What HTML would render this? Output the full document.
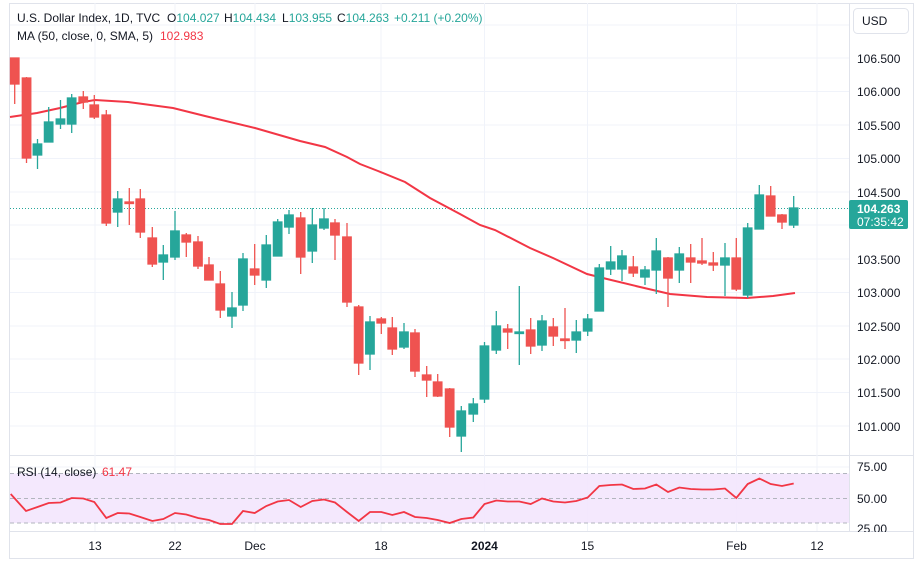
<!DOCTYPE html>
<html><head><meta charset="utf-8"><style>
html,body{margin:0;padding:0;background:#fff;width:923px;height:566px;overflow:hidden}
svg{display:block;font-family:"Liberation Sans",sans-serif}
</style></head><body>
<svg width="923" height="566" viewBox="0 0 923 566" xmlns="http://www.w3.org/2000/svg">
<rect x="0" y="0" width="923" height="566" fill="#fff"/>
<rect x="9.5" y="3.5" width="904" height="555" fill="none" stroke="#e0e3eb"/>
<line x1="849.5" y1="3" x2="849.5" y2="558" stroke="#e0e3eb"/>
<line x1="10" y1="455.5" x2="913" y2="455.5" stroke="#e0e3eb"/>
<line x1="10" y1="531.5" x2="913" y2="531.5" stroke="#e0e3eb"/>
<g stroke="#f0f3fa" stroke-width="1">
<line x1="10" y1="25" x2="849" y2="25"/>
<line x1="10" y1="58" x2="849" y2="58"/>
<line x1="10" y1="91.5" x2="849" y2="91.5"/>
<line x1="10" y1="125" x2="849" y2="125"/>
<line x1="10" y1="158.5" x2="849" y2="158.5"/>
<line x1="10" y1="192" x2="849" y2="192"/>
<line x1="10" y1="225" x2="849" y2="225"/>
<line x1="10" y1="259" x2="849" y2="259"/>
<line x1="10" y1="292.5" x2="849" y2="292.5"/>
<line x1="10" y1="326" x2="849" y2="326"/>
<line x1="10" y1="359" x2="849" y2="359"/>
<line x1="10" y1="392.5" x2="849" y2="392.5"/>
<line x1="10" y1="426" x2="849" y2="426"/>
<line x1="10" y1="467" x2="849" y2="467"/>
<line x1="95" y1="3" x2="95" y2="531"/>
<line x1="175" y1="3" x2="175" y2="531"/>
<line x1="255" y1="3" x2="255" y2="531"/>
<line x1="381" y1="3" x2="381" y2="531"/>
<line x1="484.5" y1="3" x2="484.5" y2="531"/>
<line x1="587.5" y1="3" x2="587.5" y2="531"/>
<line x1="736.5" y1="3" x2="736.5" y2="531"/>
<line x1="817" y1="3" x2="817" y2="531"/>
</g>
<rect x="10" y="473.5" width="839" height="49.5" fill="#f3e5fd" opacity="0.9"/>
<g stroke="#b2b5be" stroke-dasharray="4,3" stroke-width="1">
<line x1="10" y1="473.5" x2="849" y2="473.5"/>
<line x1="10" y1="498.5" x2="849" y2="498.5"/>
<line x1="10" y1="523" x2="849" y2="523"/>
</g>
<line x1="10" y1="208.5" x2="849" y2="208.5" stroke="#26a69a" stroke-dasharray="1,2"/>
<polyline fill="none" stroke="#f23645" stroke-width="2" points="10,117 37,113 60,108 83,102 95,100 128,102 173,108 205,116 255,128 300,141 325,147 347,157 360,164 378,171 405,182 430,198 460,214 480,225 495,230 530,248 553,258 587,274 607,279 640,287 670,294 707,297 747,298 773,296 795,293"/>
<g stroke-width="1.3">
<g stroke="#ef5350" fill="#ef5350">
<line x1="14.7" y1="58" x2="14.7" y2="104"/><rect x="10.5" y="58" width="8.5" height="26"/>
<line x1="26.5" y1="77" x2="26.5" y2="163"/><rect x="22.3" y="78" width="8.5" height="80"/>
<line x1="83.3" y1="91" x2="83.3" y2="109"/><rect x="79" y="97" width="8.5" height="5"/>
<line x1="94.3" y1="95" x2="94.3" y2="119"/><rect x="90" y="105" width="8.5" height="12"/>
<line x1="106.3" y1="110" x2="106.3" y2="226"/><rect x="102" y="115" width="8.5" height="108"/>
<line x1="129.3" y1="188" x2="129.3" y2="225"/><rect x="125" y="202" width="8.5" height="1.5"/>
<line x1="140.3" y1="189" x2="140.3" y2="238"/><rect x="136" y="199" width="8.5" height="33"/>
<line x1="152.3" y1="227" x2="152.3" y2="267"/><rect x="148" y="238" width="8.5" height="26"/>
<line x1="186.3" y1="233" x2="186.3" y2="257"/><rect x="182" y="235" width="8.5" height="7"/>
<line x1="198" y1="236" x2="198" y2="269"/><rect x="193.7" y="242" width="8.5" height="24"/>
<line x1="209" y1="257" x2="209" y2="280"/><rect x="204.7" y="265" width="8.5" height="15"/>
<line x1="220.3" y1="271" x2="220.3" y2="318"/><rect x="216" y="284" width="8.5" height="26"/>
<line x1="254.7" y1="244" x2="254.7" y2="285"/><rect x="250.4" y="269" width="8.5" height="6"/>
<line x1="300.7" y1="212" x2="300.7" y2="274"/><rect x="296.4" y="218" width="8.5" height="39"/>
<line x1="335" y1="219" x2="335" y2="260"/><rect x="330.7" y="223" width="8.5" height="12"/>
<line x1="347" y1="223" x2="347" y2="307"/><rect x="342.7" y="237" width="8.5" height="65"/>
<line x1="358.7" y1="305" x2="358.7" y2="375"/><rect x="354.4" y="307" width="8.5" height="56"/>
<line x1="381.3" y1="317" x2="381.3" y2="334"/><rect x="377" y="319" width="8.5" height="4"/>
<line x1="392.3" y1="317" x2="392.3" y2="355"/><rect x="388" y="328" width="8.5" height="21"/>
<line x1="415" y1="329" x2="415" y2="377"/><rect x="410.7" y="333" width="8.5" height="38"/>
<line x1="426.7" y1="366" x2="426.7" y2="397"/><rect x="422.4" y="375" width="8.5" height="5"/>
<line x1="437.7" y1="374" x2="437.7" y2="397"/><rect x="433.4" y="382" width="8.5" height="14"/>
<line x1="449.7" y1="388" x2="449.7" y2="437"/><rect x="445.4" y="389" width="8.5" height="38"/>
<line x1="507.7" y1="324" x2="507.7" y2="349"/><rect x="503.4" y="329" width="8.5" height="3"/>
<line x1="530.7" y1="318" x2="530.7" y2="354"/><rect x="526.4" y="330" width="8.5" height="16"/>
<line x1="553.3" y1="318" x2="553.3" y2="346"/><rect x="549" y="327" width="8.5" height="9"/>
<line x1="565" y1="308" x2="565" y2="349"/><rect x="560.7" y="339" width="8.5" height="1.5"/>
<line x1="633.3" y1="256" x2="633.3" y2="277"/><rect x="629" y="267" width="8.5" height="6"/>
<line x1="668" y1="257" x2="668" y2="307"/><rect x="663.7" y="258" width="8.5" height="20"/>
<line x1="690.7" y1="244" x2="690.7" y2="283"/><rect x="686.4" y="258" width="8.5" height="4"/>
<line x1="702" y1="238" x2="702" y2="265"/><rect x="697.7" y="261" width="8.5" height="2"/>
<line x1="713.3" y1="252" x2="713.3" y2="271"/><rect x="709" y="263" width="8.5" height="2"/>
<line x1="736.3" y1="238" x2="736.3" y2="291"/><rect x="732" y="258" width="8.5" height="31"/>
<line x1="770.7" y1="186" x2="770.7" y2="216"/><rect x="766.4" y="196" width="8.5" height="20"/>
<line x1="782" y1="214" x2="782" y2="229"/><rect x="777.7" y="215" width="8.5" height="7"/>
</g>
<g stroke="#26a69a" fill="#26a69a">
<line x1="37.5" y1="139" x2="37.5" y2="169"/><rect x="33.2" y="144" width="8.5" height="11"/>
<line x1="48.7" y1="107" x2="48.7" y2="142"/><rect x="44.4" y="122" width="8.5" height="20"/>
<line x1="60.5" y1="100" x2="60.5" y2="129"/><rect x="56.2" y="119" width="8.5" height="5"/>
<line x1="71.7" y1="94" x2="71.7" y2="133"/><rect x="67.4" y="98" width="8.5" height="26"/>
<line x1="117.7" y1="191" x2="117.7" y2="227"/><rect x="113.4" y="199" width="8.5" height="13"/>
<line x1="163.3" y1="245" x2="163.3" y2="280"/><rect x="159" y="255" width="8.5" height="7"/>
<line x1="175" y1="211" x2="175" y2="260"/><rect x="170.7" y="231" width="8.5" height="26"/>
<line x1="232" y1="292" x2="232" y2="328"/><rect x="227.7" y="308" width="8.5" height="8"/>
<line x1="243" y1="253" x2="243" y2="311"/><rect x="238.7" y="259" width="8.5" height="46"/>
<line x1="266.3" y1="235" x2="266.3" y2="288"/><rect x="262" y="245" width="8.5" height="35"/>
<line x1="277.7" y1="219" x2="277.7" y2="256"/><rect x="273.4" y="222" width="8.5" height="34"/>
<line x1="289" y1="210" x2="289" y2="234"/><rect x="284.7" y="215" width="8.5" height="12"/>
<line x1="312.3" y1="208" x2="312.3" y2="263"/><rect x="308" y="225" width="8.5" height="26"/>
<line x1="324" y1="208" x2="324" y2="230"/><rect x="319.7" y="219" width="8.5" height="9"/>
<line x1="370" y1="316" x2="370" y2="370"/><rect x="365.7" y="322" width="8.5" height="32"/>
<line x1="404" y1="323" x2="404" y2="349"/><rect x="399.7" y="332" width="8.5" height="15"/>
<line x1="461.3" y1="406" x2="461.3" y2="452"/><rect x="457" y="411" width="8.5" height="25"/>
<line x1="473.3" y1="398" x2="473.3" y2="422"/><rect x="469" y="404" width="8.5" height="10"/>
<line x1="484.5" y1="342" x2="484.5" y2="403"/><rect x="480.2" y="346" width="8.5" height="53"/>
<line x1="496.3" y1="311" x2="496.3" y2="354"/><rect x="492" y="326" width="8.5" height="24"/>
<line x1="519.3" y1="286" x2="519.3" y2="365"/><rect x="515" y="332" width="8.5" height="1.5"/>
<line x1="542" y1="315" x2="542" y2="351"/><rect x="537.7" y="321" width="8.5" height="24"/>
<line x1="576.3" y1="320" x2="576.3" y2="353"/><rect x="572" y="332" width="8.5" height="8"/>
<line x1="587.7" y1="314" x2="587.7" y2="336"/><rect x="583.4" y="319" width="8.5" height="12"/>
<line x1="599.3" y1="264" x2="599.3" y2="311"/><rect x="595" y="268" width="8.5" height="43"/>
<line x1="610.7" y1="246" x2="610.7" y2="275"/><rect x="606.4" y="262" width="8.5" height="7"/>
<line x1="622" y1="250" x2="622" y2="281"/><rect x="617.7" y="256" width="8.5" height="13"/>
<line x1="645" y1="266" x2="645" y2="285"/><rect x="640.7" y="270" width="8.5" height="7"/>
<line x1="656.3" y1="238" x2="656.3" y2="294"/><rect x="652" y="251" width="8.5" height="19"/>
<line x1="679.3" y1="247" x2="679.3" y2="283"/><rect x="675" y="254" width="8.5" height="16"/>
<line x1="725" y1="243" x2="725" y2="296"/><rect x="720.7" y="258" width="8.5" height="7"/>
<line x1="747.7" y1="223" x2="747.7" y2="298"/><rect x="743.4" y="228" width="8.5" height="67"/>
<line x1="759.3" y1="185" x2="759.3" y2="229"/><rect x="755" y="195" width="8.5" height="34"/>
<line x1="793.7" y1="196" x2="793.7" y2="228"/><rect x="789.4" y="208" width="8.5" height="17"/>
</g>
</g>
<polyline fill="none" stroke="#f23645" stroke-width="1.8" points="10.7,494 26,511 37.5,507 48.7,503 60.5,502.5 71.7,498 83.3,498.5 94.3,502 106.3,518 117.7,513 129.3,513.5 140.3,517 152.3,521 163.3,519 175,513 186.3,514.5 198,518 209,520 220.3,524 232,524 243,511 254.7,513 266.3,506 277.7,501.5 289,500 300.7,507 312.3,501 324,499.5 335,502.5 347,512 358.7,521 370,512 381.3,512 392.3,515 404,512 415,517 426.7,518 437.7,520 449.7,523 461.3,519 473.3,517.5 484.5,504 496.3,500.5 507.7,501.5 519.3,501.5 530.7,504 542,498.5 553.3,501.5 565,502.5 576.3,501 587.7,497.5 599.3,486 610.7,485 622,484.5 633.3,489 645,488.5 656.3,484.5 668,492 679.3,487.5 690.7,489 702,489.5 713.3,489.5 725,488.5 736.3,498 747.7,484 759.3,478.5 770.7,484 782,486 793.7,483.5"/>
<g font-size="12" fill="#131722">
<text x="17" y="22">U.S. Dollar Index, 1D, TVC</text>
<text x="167" y="22">O<tspan fill="#26a69a">104.027</tspan></text>
<text x="224" y="22">H<tspan fill="#26a69a">104.434</tspan></text>
<text x="282" y="22">L<tspan fill="#26a69a">103.955</tspan></text>
<text x="337" y="22">C<tspan fill="#26a69a">104.263</tspan></text>
<text x="394" y="22" fill="#26a69a">+0.211 (+0.20%)</text>
<text x="17" y="40">MA (50, close, 0, SMA, 5)</text>
<text x="160" y="40" fill="#f23645">102.983</text>
<text x="17" y="476">RSI (14, close)</text>
<text x="102" y="476" fill="#f23645">61.47</text>
</g>
<rect x="853.5" y="8.5" width="55" height="25" rx="4" fill="#fff" stroke="#e0e3eb"/>
<text x="862" y="25" font-size="12" fill="#131722">USD</text>
<g font-size="12" fill="#131722">
<text x="857" y="63">106.500</text>
<text x="857" y="96">106.000</text>
<text x="857" y="130">105.500</text>
<text x="857" y="163">105.000</text>
<text x="857" y="197">104.500</text>
<text x="857" y="264">103.500</text>
<text x="857" y="297">103.000</text>
<text x="857" y="331">102.500</text>
<text x="857" y="364">102.000</text>
<text x="857" y="397">101.500</text>
<text x="857" y="431">101.000</text>
<text x="857" y="471">75.00</text>
<text x="857" y="503">50.00</text>
<text x="857" y="533">25.00</text>
</g>
<rect x="849" y="200" width="59" height="29" rx="2" fill="#26a69a"/>
<text x="857" y="213" font-size="12" font-weight="bold" fill="#fff">104.263</text>
<text x="857" y="226" font-size="12" fill="#fff">07:35:42</text>
<rect x="849" y="532" width="64" height="26" fill="#fff"/>
<g font-size="12" fill="#131722" text-anchor="middle">
<text x="95" y="550">13</text>
<text x="175" y="550">22</text>
<text x="255" y="550">Dec</text>
<text x="381" y="550">18</text>
<text x="484.5" y="550" font-weight="bold">2024</text>
<text x="587.5" y="550">15</text>
<text x="736.5" y="550">Feb</text>
<text x="817" y="550">12</text>
</g>
</svg>
</body></html>
